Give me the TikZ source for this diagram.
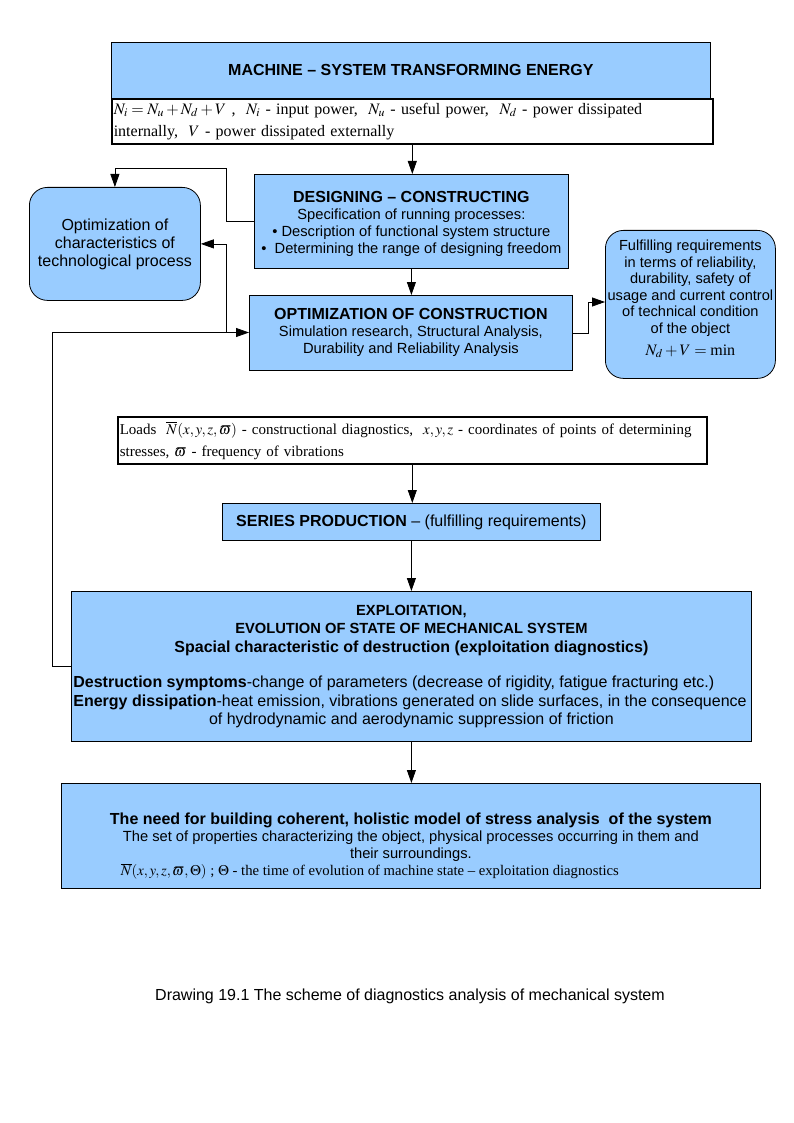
\documentclass[tikz,border=0pt]{standalone}
\usepackage{mathptmx}
\usepackage[no-math]{fontspec}
\setmainfont{Liberation Sans}
\newfontfamily\serifo{Liberation Serif}
\usetikzlibrary{arrows.meta}
\definecolor{azul}{RGB}{153,204,255}
\newcommand\titfont{\fontsize{16}{19}\selectfont\bfseries}
\begin{document}
\begin{tikzpicture}[x=1pt, y=-1pt,
    caja/.style={draw, fill=azul, line width=0.8pt, inner sep=2pt, align=center},
    blanca/.style={draw, fill=white, line width=1.6pt, inner sep=2pt, align=left},
    redonda/.style={caja, rounded corners=18pt},
    flecha/.style={-{Triangle[length=13pt,width=9pt]}, line width=0.8pt},
    texto/.style={font=\fontsize{14.7}{17}\selectfont},
    grande/.style={font=\fontsize{16}{18.5}\selectfont}]

    % Hoja
    \fill[white] (0,0) rectangle (794,1123);
    \useasboundingbox (0,0) rectangle (794,1123);

    % Maquina y potencias
    \node[caja, minimum width=599, minimum height=56, anchor=north west, font=\titfont] (machine) at (111,42) {MACHINE – SYSTEM TRANSFORMING ENERGY};
    \node[blanca, text width=597, minimum height=45, anchor=north west, font=\serifo\fontsize{16}{22}\selectfont] (power) at (111,98)
      {$N_i = N_u + N_d + V$ ,~ $N_i$ - input power,~ $N_u$ - useful power,~ $N_d$ - power dissipated\\ internally,~ $V$ - power dissipated externally};

    % Diseno y optimizacion
    \node[caja, minimum width=314, minimum height=94, anchor=north west, texto] (design) at (254,174)
      {{\titfont\rule{0pt}{16pt}DESIGNING – CONSTRUCTING}\\ Specification of running processes:\\ \textbullet\ Description of functional system structure\\ \textbullet\ \ Determining the range of designing freedom};
    \node[caja, minimum width=323, minimum height=75, anchor=north west, texto] (optcon) at (249,295)
      {{\titfont OPTIMIZATION OF CONSTRUCTION}\\ Simulation research, Structural Analysis,\\ Durability and Reliability Analysis};

    % Cajas redondeadas
    \node[redonda, minimum width=171, minimum height=113, anchor=north west, font=\fontsize{16}{18}\selectfont] (optproc) at (29,187)
      {Optimization of\\ characteristics of\\ technological process};
    \node[redonda, minimum width=170, minimum height=148, anchor=north west, inner sep=0pt, font=\fontsize{14.6}{16.6}\selectfont] (require) at (605,230)
      {Fulfilling requirements\\ in terms of reliability,\\ durability, safety of\\ usage and current control\\ of technical condition\\ of the object\\[5pt] {\serifo\fontsize{16}{18}\selectfont $N_d + V = \mbox{min}$}\\[-3pt]~};

    % Cargas y produccion
    \node[blanca, text width=585, minimum height=47, anchor=north west, font=\serifo\fontsize{15}{22}\selectfont] (loads) at (117,416)
      {Loads~ $\overline{N}(x,y,z,\varpi)$ - constructional diagnostics,~ $x,y,z$ - coordinates of points of determining\\ stresses, $\varpi$ - frequency of vibrations};
    \node[caja, minimum width=378, minimum height=37, anchor=north west, grande] (series) at (222,503)
      {\textbf{SERIES PRODUCTION} – (fulfilling requirements)};

    % Explotacion
    \node[caja, minimum width=680, minimum height=150, anchor=north west, font=\fontsize{14.7}{18.5}\selectfont] (exploit) at (71,591)
      {\textbf{EXPLOITATION,}\\ \textbf{EVOLUTION OF STATE OF MECHANICAL SYSTEM}\\ {\fontsize{16}{18.5}\selectfont\textbf{Spacial characteristic of destruction (exploitation diagnostics)}}\\[17pt]
       {\fontsize{16}{18.5}\selectfont\makebox[676pt][l]{\textbf{Destruction symptoms}-change of parameters (decrease of rigidity, fatigue fracturing etc.)}}\\
       {\fontsize{16}{18.5}\selectfont\makebox[676pt][l]{\textbf{Energy dissipation}-heat emission, vibrations generated on slide surfaces, in the consequence}}\\
       {\fontsize{16}{18.5}\selectfont of hydrodynamic and aerodynamic suppression of friction}};

    % Modelo
    \node[caja, minimum width=699, minimum height=105, anchor=north west, texto] (model) at (61,783)
      {{\fontsize{16}{17}\selectfont\bfseries\rule{0pt}{32pt}The need for building coherent, holistic model of stress analysis\ \ of the system}\\
       The set of properties characterizing the object, physical processes occurring in them and\\ their surroundings.\\
       {\serifo $\overline{N}(x,y,z,\varpi,\Theta)$ ; $\Theta$ - the time of evolution of machine state – exploitation diagnostics}\hspace*{82pt}};

    % Pie
    \node[grande] (caption) at (410,996) {Drawing 19.1 The scheme of diagnostics analysis of mechanical system};

    % Flechas verticales
    \draw[flecha] (power.south) -- (power.south |- design.north);
    \draw[flecha] (design.south) -- (design.south |- optcon.north);
    \draw[flecha] (loads.south) -- (loads.south |- series.north);
    \draw[flecha] (series.south) -- (series.south |- exploit.north);
    \draw[flecha] (exploit.south) -- (exploit.south |- model.north);

    % Conexiones laterales
    \coordinate (c1) at (226,168);
    \draw[flecha] (design.west) -| (c1) -| (optproc.north);
    \coordinate (fb) at (52,332.5);
    \draw[flecha] (exploit.west) -| (fb) -- (fb -| optcon.west);
    \coordinate (br) at (226,332.5);
    \draw[flecha] (br) |- (optproc.east);
    \coordinate (c2) at (588,302);
    \draw[flecha] (optcon.east) -| (c2) -- (c2 -| require.west);
  \end{tikzpicture}
\end{document}
